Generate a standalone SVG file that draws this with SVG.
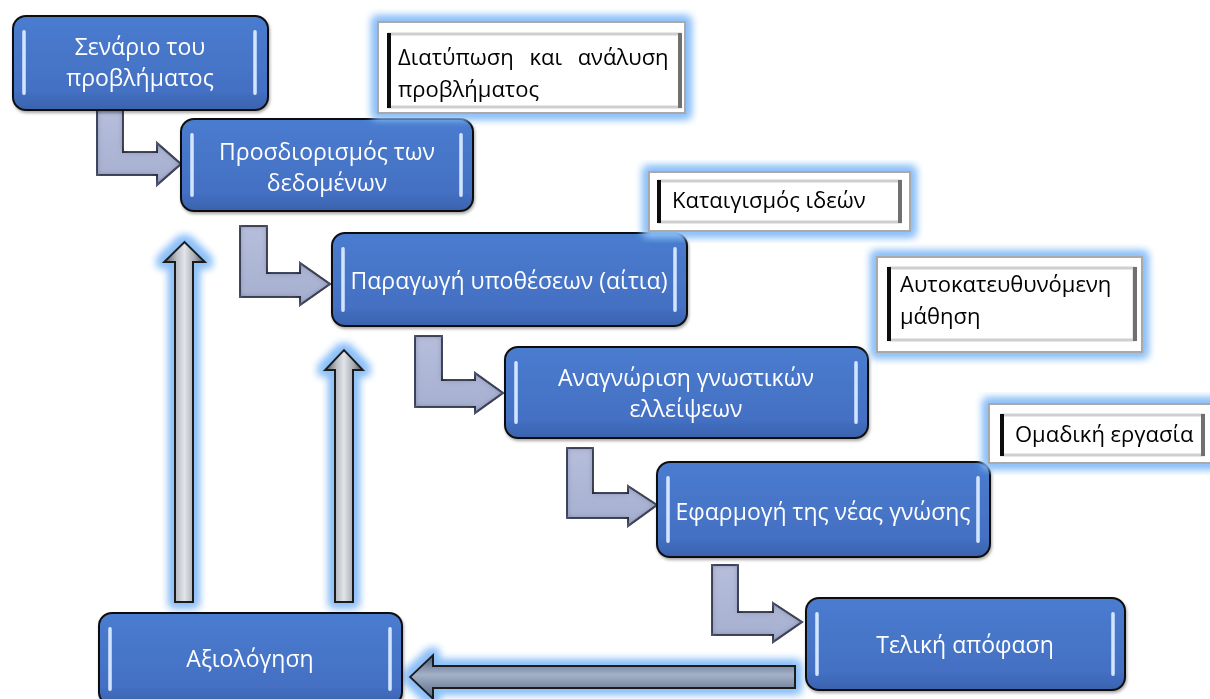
<svg xmlns="http://www.w3.org/2000/svg" width="1210" height="699" viewBox="0 0 1210 699">
  <defs>
    <linearGradient id="nodeFill" x1="0" y1="0" x2="0" y2="1">
      <stop offset="0" stop-color="#4a7ccf"/>
      <stop offset="0.8" stop-color="#4470c3"/>
      <stop offset="1" stop-color="#3a62ad"/>
    </linearGradient>
    <linearGradient id="barFill" x1="0" y1="0" x2="1" y2="0">
      <stop offset="0" stop-color="#9cc0f5"/>
      <stop offset="0.5" stop-color="#e6f0ff"/>
      <stop offset="1" stop-color="#9cc0f5"/>
    </linearGradient>
    <linearGradient id="elbowFill" x1="0" y1="0" x2="0" y2="1">
      <stop offset="0" stop-color="#b6bedc"/>
      <stop offset="1" stop-color="#a6afcf"/>
    </linearGradient>
    <linearGradient id="upFill" x1="0" y1="0" x2="1" y2="0">
      <stop offset="0" stop-color="#4f535a"/>
      <stop offset="0.3" stop-color="#b9bdc4"/>
      <stop offset="0.5" stop-color="#e2e4e8"/>
      <stop offset="0.75" stop-color="#a7abb3"/>
      <stop offset="1" stop-color="#4a4e55"/>
    </linearGradient>
    <linearGradient id="backFill" x1="0" y1="0" x2="0" y2="1">
      <stop offset="0" stop-color="#4d5c75"/>
      <stop offset="0.45" stop-color="#a3b2c9"/>
      <stop offset="1" stop-color="#56657e"/>
    </linearGradient>
    <filter id="glow" x="-20%" y="-20%" width="140%" height="140%">
      <feMorphology in="SourceAlpha" operator="dilate" radius="4" result="grow"/>
      <feGaussianBlur in="grow" stdDeviation="4" result="soft"/>
      <feFlood flood-color="#8dc0f8"/>
      <feComposite in2="soft" operator="in" result="halo"/>
      <feMerge>
        <feMergeNode in="halo"/>
        <feMergeNode in="halo"/>
        <feMergeNode in="SourceGraphic"/>
      </feMerge>
    </filter>
    <filter id="shade" x="-5%" y="-5%" width="110%" height="115%">
      <feGaussianBlur in="SourceAlpha" stdDeviation="1.5" result="b"/>
      <feOffset dx="1" dy="2" result="o"/>
      <feFlood flood-color="#000" flood-opacity="0.35"/>
      <feComposite in2="o" operator="in" result="s"/>
      <feMerge>
        <feMergeNode in="s"/>
        <feMergeNode in="SourceGraphic"/>
      </feMerge>
    </filter>
    <!-- darkened rim just inside the outline of the elbow arrows -->
    <filter id="rim" x="-5%" y="-5%" width="110%" height="110%">
      <feGaussianBlur in="SourceAlpha" stdDeviation="3" result="b"/>
      <feComposite in="SourceAlpha" in2="b" operator="arithmetic" k2="1" k3="-1" result="edge"/>
      <feFlood flood-color="#5d6588"/>
      <feComposite in2="edge" operator="in" result="tint"/>
      <feMerge>
        <feMergeNode in="SourceGraphic"/>
        <feMergeNode in="tint"/>
      </feMerge>
    </filter>
  </defs>
  <style>
    .node rect.box { fill: url(#nodeFill); stroke: #111; stroke-width: 2; }
    .node rect.bar { fill: url(#barFill); }
    .node text { font-family: "Open Sans", "Noto Sans", "DejaVu Sans", sans-serif; font-size: 23px; fill: #ffffff; text-anchor: middle; }
    .note rect.outer { fill: #ffffff; stroke: #a9a9a9; stroke-width: 2; }
    .note rect.inner { fill: #ffffff; stroke: #cfcfcf; stroke-width: 3; }
    .note rect.dark { fill: #111; }
    .note rect.grey { fill: #707070; }
    .note text { font-family: "Open Sans", "Noto Sans", "DejaVu Sans", sans-serif; font-size: 22px; fill: #000; }
    .elbow { fill: url(#elbowFill); stroke: #1a1a1a; stroke-width: 2; stroke-linejoin: miter; }
    .up { fill: url(#upFill); stroke: #1a1a1a; stroke-width: 2; }
    .back { fill: url(#backFill); stroke: #1a1a1a; stroke-width: 2; }
  </style>

  <rect width="1210" height="699" fill="#ffffff"/>

  <!-- connectors -->
  <g id="connectors">
    <g filter="url(#rim)">
      <path class="elbow" d="M97 110 H123 V152 H157 V143 L181 164 L157 185 V175 H97 Z"/>
      <path class="elbow" d="M240 226 H267 V273 H300 V263 L330 284 L300 305 V297 H240 Z"/>
      <path class="elbow" d="M415 336 H442 V380 H475 V373 L503 393 L475 413 V407 H415 Z"/>
      <path class="elbow" d="M567 448 H593 V493 H628 V486 L657 505 L628 526 V518 H567 Z"/>
      <path class="elbow" d="M712 565 H738 V612 H773 V603 L802 622 L773 642 V635 H712 Z"/>
    </g>
    <g filter="url(#glow)">
      <path class="up" d="M175 602 V262 H164 L184.5 242 L205 262 H193 V602 Z"/>
      <path class="up" d="M335 602 V370 H325 L344 350 L363 370 H353 V602 Z"/>
      <path class="back" d="M795 666 V688 H433 V699 L410 677 L433 655 V666 Z"/>
    </g>
  </g>

  <!-- process steps -->
  <g id="step-scenario" class="node" filter="url(#shade)">
    <rect class="box" x="13" y="16" width="255" height="94" rx="13"/>
    <rect class="bar" x="22" y="30" width="4" height="65" rx="2"/>
    <rect class="bar" x="253" y="30" width="4" height="65" rx="2"/>
    <text x="140" y="55">Σενάριο του</text>
    <text x="140" y="86">προβλήματος</text>
  </g>
  <g id="step-data" class="node" filter="url(#shade)">
    <rect class="box" x="181" y="119" width="292" height="92" rx="13"/>
    <rect class="bar" x="190" y="133" width="4" height="64" rx="2"/>
    <rect class="bar" x="459" y="133" width="4" height="64" rx="2"/>
    <text x="327" y="160">Προσδιορισμός των</text>
    <text x="327" y="191">δεδομένων</text>
  </g>
  <g id="step-hypotheses" class="node" filter="url(#shade)">
    <rect class="box" x="332" y="233" width="355" height="93" rx="13"/>
    <rect class="bar" x="341" y="247" width="4" height="65" rx="2"/>
    <rect class="bar" x="673" y="247" width="4" height="65" rx="2"/>
    <text x="509" y="289">Παραγωγή υποθέσεων (αίτια)</text>
  </g>
  <g id="step-gaps" class="node" filter="url(#shade)">
    <rect class="box" x="505" y="347" width="363" height="91" rx="13"/>
    <rect class="bar" x="514" y="361" width="4" height="63" rx="2"/>
    <rect class="bar" x="854" y="361" width="4" height="63" rx="2"/>
    <text x="686" y="386">Αναγνώριση γνωστικών</text>
    <text x="686" y="417">ελλείψεων</text>
  </g>
  <g id="step-apply" class="node" filter="url(#shade)">
    <rect class="box" x="657" y="462" width="333" height="95" rx="13"/>
    <rect class="bar" x="666" y="476" width="4" height="67" rx="2"/>
    <rect class="bar" x="976" y="476" width="4" height="67" rx="2"/>
    <text x="823" y="520">Εφαρμογή της νέας γνώσης</text>
  </g>
  <g id="step-decision" class="node" filter="url(#shade)">
    <rect class="box" x="806" y="598" width="319" height="92" rx="13"/>
    <rect class="bar" x="815" y="612" width="4" height="64" rx="2"/>
    <rect class="bar" x="1111" y="612" width="4" height="64" rx="2"/>
    <text x="965" y="653">Τελική απόφαση</text>
  </g>
  <g id="step-evaluation" class="node" filter="url(#shade)">
    <rect class="box" x="99" y="613" width="303" height="92" rx="13"/>
    <rect class="bar" x="108" y="627" width="4" height="64" rx="2"/>
    <rect class="bar" x="388" y="627" width="4" height="64" rx="2"/>
    <text x="250" y="667">Αξιολόγηση</text>
  </g>

  <!-- side notes -->
  <g id="note-formulation" class="note" filter="url(#glow)">
    <rect class="outer" x="378" y="22" width="307" height="91"/>
    <rect class="inner" x="389" y="34" width="291" height="73"/>
    <rect class="dark" x="387" y="33" width="4" height="75"/>
    <rect class="grey" x="678" y="33" width="4" height="75"/>
    <text x="398" y="65" word-spacing="10">Διατύπωση και ανάλυση</text>
    <text x="398" y="97">προβλήματος</text>
  </g>
  <g id="note-brainstorm" class="note" filter="url(#glow)">
    <rect class="outer" x="649" y="172" width="261" height="59"/>
    <rect class="inner" x="659" y="181" width="241" height="41"/>
    <rect class="dark" x="657" y="180" width="4" height="43"/>
    <rect class="grey" x="898" y="180" width="4" height="43"/>
    <text x="672" y="208">Καταιγισμός ιδεών</text>
  </g>
  <g id="note-selfdirected" class="note" filter="url(#glow)">
    <rect class="outer" x="877" y="257" width="265" height="95"/>
    <rect class="inner" x="889" y="268" width="245" height="72"/>
    <rect class="dark" x="887" y="267" width="4" height="74"/>
    <rect class="grey" x="1133" y="267" width="4" height="74"/>
    <text x="900" y="292">Αυτοκατευθυνόμενη</text>
    <text x="900" y="324">μάθηση</text>
  </g>
  <g id="note-teamwork" class="note" filter="url(#glow)">
    <rect class="outer" x="989" y="404" width="224" height="59"/>
    <rect class="inner" x="1002" y="415" width="201" height="40"/>
    <rect class="dark" x="1000" y="414" width="4" height="42"/>
    <rect class="grey" x="1201" y="414" width="4" height="42"/>
    <text x="1015" y="442">Ομαδική εργασία</text>
  </g>
</svg>
